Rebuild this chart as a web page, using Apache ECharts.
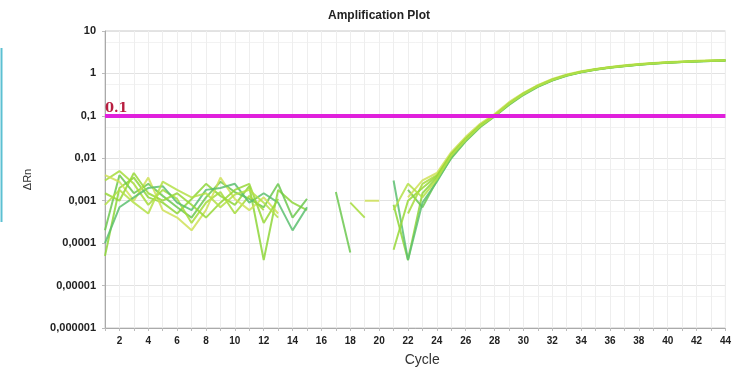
<!DOCTYPE html>
<html>
<head>
<meta charset="utf-8">
<script src="https://cdn.jsdelivr.net/npm/echarts@6/dist/echarts.min.js"></script>
<style>html,body{margin:0;padding:0;background:#fff}#c{width:734px;height:372px}</style>
</head>
<body>
<div id="c"></div>
<script>
var cycles = [];
for (var i = 1; i <= 44; i++) cycles.push(i);
var yTickLabels = ['0,000001','0,00001','0,0001','0,001','0,01','0,1','1','10'];
var threshold = 0.1;

var s1 = [0.00005,0.002,0.0035,0.0012,0.0009,0.0005,0.0011,0.0025,0.0013,0.0008,0.0022,0.00004,0.0018,0.0009,0.0006,null,null,null,null,null,0.0008,0.00004,0.0015,0.0035,0.012,0.028,0.058,0.1,0.19,0.33,0.5,0.7,0.9,1.08,1.24,1.38,1.5,1.62,1.72,1.8,1.87,1.93,1.98,2.02];
var s2 = [0.0002,0.004,0.0015,0.0025,0.0013,0.0007,0.0004,0.0012,0.0028,0.0016,0.0011,0.0007,0.0025,0.0004,0.0011,null,0.0016,0.00006,null,null,null,0.0018,0.0007,0.003,0.010,0.025,0.054,0.097,0.18,0.31,0.48,0.68,0.88,1.06,1.22,1.36,1.48,1.6,1.7,1.78,1.85,1.91,1.96,2.0];
var s3 = [0.003,0.005,0.0025,0.0008,0.0018,0.0011,0.0003,0.0009,0.0016,0.0005,0.0013,0.0006,null,null,null,null,null,0.0009,0.0004,null,null,0.0005,0.0025,0.004,0.013,0.03,0.062,0.105,0.2,0.34,0.52,0.72,0.92,1.1,1.26,1.4,1.52,1.64,1.74,1.82,1.89,1.95,2.0,2.05];
var s4 = [0.004,0.0028,0.001,0.0035,0.0006,0.0004,0.0002,0.0006,0.0035,0.0011,0.0006,0.0012,0.0005,null,null,null,null,null,0.001,0.001,null,0.0012,0.003,0.0045,0.014,0.032,0.065,0.11,0.21,0.35,0.53,0.74,0.94,1.12,1.28,1.42,1.55,1.67,1.77,1.85,1.92,1.98,2.03,2.08];
var s5 = [0.0001,0.0007,0.0012,0.002,0.0022,0.0009,0.0006,0.0018,0.002,0.0025,0.0009,0.0015,0.0009,0.0002,0.0007,null,null,null,null,null,0.003,0.00004,0.0009,0.0028,0.0105,0.026,0.056,0.099,0.185,0.32,0.49,0.69,0.89,1.07,1.23,1.37,1.49,1.61,1.71,1.79,1.86,1.92,1.97,2.01];
var s6 = [0.0015,0.001,0.0045,0.0015,0.001,0.0015,0.0008,0.0004,0.0009,0.0018,0.0025,0.0003,0.0011,null,null,null,null,null,null,null,0.00007,0.001,0.002,0.0038,0.0125,0.029,0.06,0.102,0.195,0.335,0.51,0.71,0.91,1.09,1.25,1.39,1.51,1.63,1.73,1.81,1.88,1.94,1.99,2.04];
var s7 = [0.0008,0.0018,0.0009,0.0005,0.0028,0.0018,0.0012,0.0015,0.0007,0.0014,0.0018,0.0009,0.0004,null,null,null,null,null,null,null,0.0006,0.0025,0.0012,0.0032,0.0115,0.027,0.057,0.1,0.19,0.325,0.5,0.7,0.9,1.08,1.24,1.38,1.5,1.62,1.72,1.8,1.87,1.93,1.98,2.03];

var seriesData = [s1, s2, s3, s4, s5, s6, s7];
var colors = ['#8ed63a','#6cc850','#a6dc3c','#cfe058','#5cc070','#98d838','#b4e048'];

var chart = echarts.init(document.getElementById('c'));
var series = seriesData.map(function (d, k) {
  return {
    type: 'line',
    data: d.map(function (v, j) { return [cycles[j], v]; }),
    symbol: 'none',
    connectNulls: false,
    lineStyle: { width: 2, color: colors[k], opacity: 0.85 },
    z: 3
  };
});
series.push({
  type: 'line',
  data: [],
  markLine: {
    silent: true,
    symbol: 'none',
    data: [{ yAxis: threshold }],
    lineStyle: { color: '#e020dc', width: 4, type: 'solid' },
    label: {
      show: true,
      position: 'insideStartTop',
      formatter: '0.1',
      color: '#b81e40',
      fontFamily: 'DejaVu Serif',
      fontWeight: 'bold',
      fontSize: 13,
      distance: [0, 1]
    }
  },
  z: 5
});

chart.setOption({
  animation: false,
  title: {
    text: 'Amplification Plot',
    left: 374, top: 5, textAlign: 'center',
    textStyle: { fontSize: 12, fontWeight: 'bold', color: '#222', fontFamily: 'Liberation Sans' }
  },
  graphic: [{
    type: 'line', shape: { x1: 1.5, y1: 48, x2: 1.5, y2: 222 },
    style: { stroke: '#5cc0d2', lineWidth: 2 }
  }],
  grid: { left: 105, right: 4, top: 31, bottom: 44, show: true, borderColor: '#c8c8c8', borderWidth: 1 },
  xAxis: {
    type: 'value', min: 1, max: 44, interval: 1,
    name: 'Cycle', nameLocation: 'middle', nameGap: 25,
    nameTextStyle: { fontSize: 14, color: '#333', fontFamily: 'Liberation Sans', padding: [0, 0, 0, 14] },
    axisLine: { lineStyle: { color: '#aaa' } },
    axisTick: { show: true, length: 3, lineStyle: { color: '#bbb' } },
    axisLabel: {
      fontSize: 10, color: '#222', fontWeight: 'bold', fontFamily: 'Liberation Sans', margin: 8,
      formatter: function (v) { return v % 2 === 0 ? String(v) : ''; }
    },
    splitLine: { show: true, lineStyle: { color: '#eeeeee', width: 1 } }
  },
  yAxis: {
    type: 'log', logBase: 10, min: 0.000001, max: 10,
    name: 'ΔRn', nameLocation: 'middle', nameGap: 72, nameRotate: 90,
    nameTextStyle: { fontSize: 11, color: '#333', fontFamily: 'Liberation Sans' },
    axisLine: { show: true, lineStyle: { color: '#aaa' } },
    axisTick: { show: true, length: 3, lineStyle: { color: '#bbb' } },
    axisLabel: {
      fontSize: 11, color: '#222', fontWeight: 'bold', fontFamily: 'Liberation Sans', margin: 9,
      formatter: function (v) {
        var e = Math.round(Math.log(v) / Math.LN10);
        return yTickLabels[e + 6] || '';
      }
    },
    splitLine: { show: true, lineStyle: { color: '#e2e2e2' } },
    minorTick: { show: false, splitNumber: 2 },
    minorSplitLine: { show: true, lineStyle: { color: '#f2f2f2' } }
  },
  series: series
});
</script>
</body>
</html>
